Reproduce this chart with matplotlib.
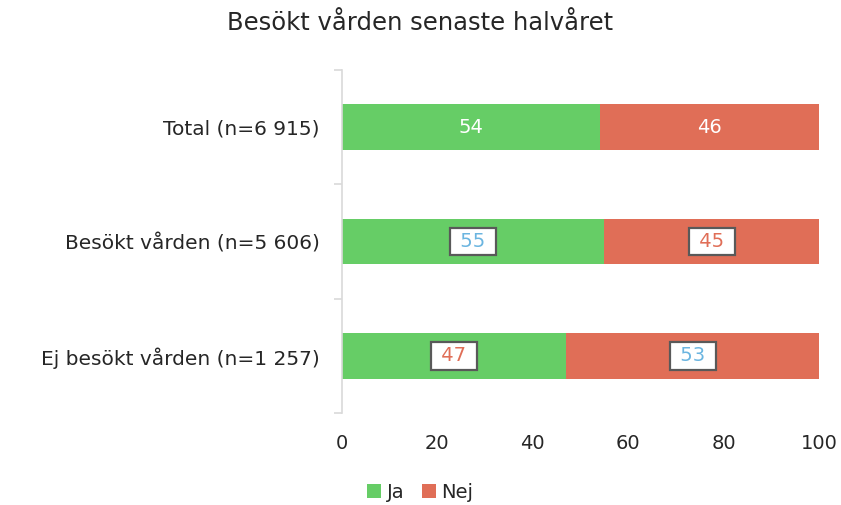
import matplotlib
matplotlib.use("Agg")
import matplotlib.pyplot as plt
from matplotlib.patches import Patch

categories = ["Total (n=6 915)", "Besökt vården (n=5 606)", "Ej besökt vården (n=1 257)"]
ja = [54, 55, 47]
nej = [46, 45, 53]
# label style per bar: "plain" = white text, "box" = boxed text
label_style = ["plain", "box", "box"]
ja_text_colors = ["white", "#6BB5E0", "#E06E57"]
nej_text_colors = ["white", "#E06E57", "#6BB5E0"]

GREEN = "#66CD66"
RED = "#E06E57"
TEXT = "#262626"

plt.rcParams['font.family'] = ['DejaVu Sans']

fig = plt.figure(figsize=(8.41, 5.05), dpi=100)
ax = fig.add_axes([0.4067, 0.1822, 0.9738 - 0.4067, 0.8614 - 0.1822])

y = list(range(len(categories)))
h = 0.40
ax.barh(y, ja, height=h, color=GREEN, label="Ja")
ax.barh(y, nej, left=ja, height=h, color=RED, label="Nej")

for i in y:
    for val, left, col in [(ja[i], 0, ja_text_colors[i]), (nej[i], ja[i], nej_text_colors[i])]:
        xc = left + val / 2
        if label_style[i] == "plain":
            ax.text(xc, i, f"{val}", ha="center", va="center", color=col, fontsize=14)
        else:
            ax.text(xc, i, f" {val} ", ha="center", va="center", color=col, fontsize=14,
                    bbox=dict(boxstyle="square,pad=0.22", facecolor="white",
                              edgecolor="#595959", linewidth=1.6))

ax.set_xlim(0, 100)
ax.set_ylim(2.5, -0.5)
ax.set_xticks([0, 20, 40, 60, 80, 100])
ax.tick_params(axis="x", length=0, labelsize=14, labelcolor=TEXT, pad=15)
ax.set_yticks(y)
ax.set_yticklabels(categories)
ax.tick_params(axis="y", which="major", length=0, labelsize=14.5, labelcolor=TEXT, pad=16)
ax.set_yticks([-0.5, 0.5, 1.5, 2.5], minor=True)
ax.tick_params(axis="y", which="minor", length=6, color="#D9D9D9", width=1.2)

for s in ["top", "right", "bottom"]:
    ax.spines[s].set_visible(False)
ax.spines["left"].set_color("#D9D9D9")
ax.spines["left"].set_linewidth(1.2)

fig.text(0.5, 0.955, "Besökt vården senaste halvåret", ha="center", va="center",
         fontsize=17.5, color=TEXT)

handles = [Patch(facecolor=GREEN, label="Ja"), Patch(facecolor=RED, label="Nej")]
fig.legend(handles=handles, loc="center", bbox_to_anchor=(0.5, 0.025), ncol=2,
           frameon=False, fontsize=14, handlelength=0.7, handleheight=0.7,
           handletextpad=0.3, columnspacing=0.9, labelcolor=TEXT)

fig.savefig("out.png", dpi=100)
